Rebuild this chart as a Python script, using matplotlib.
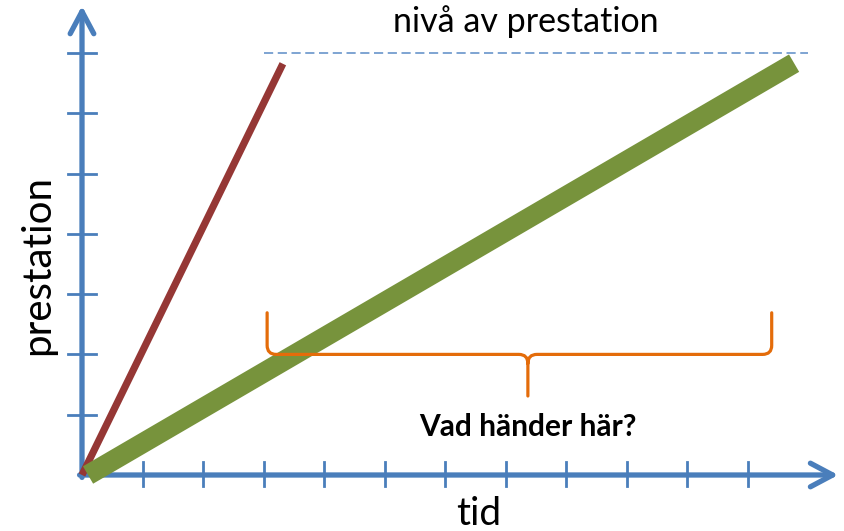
import numpy as np
import matplotlib; matplotlib.use("Agg")
import matplotlib.pyplot as plt
from matplotlib.path import Path
from matplotlib.patches import PathPatch

plt.rcParams["font.family"] = ["Lato", "DejaVu Sans"]

# data (units = tick spacing)
x_ticks = np.arange(1, 12)
y_ticks = np.arange(1, 8)
red_x, red_y = [0.0, 3.32], [0.0, 6.82]
green_x, green_y = [0.1, 11.77], [0.0, 6.83]
level = 7.0
level_x = [3.0, 12.0]
brace_left, brace_mid, brace_right = 3.06, 7.37, 11.4
brace_top, brace_line, brace_tip = 2.69, 2.0, 1.31

AX = "#4A7EBB"
fig = plt.figure(figsize=(8.44, 5.31), dpi=100)
ax = fig.add_axes([0, 0, 1, 1])
ax.set_xlim(-82 / 60.5, 762 / 60.5)
ax.set_ylim(-56 / 60.3, 475 / 60.3)
ax.axis("off")

# axes with arrows
arrow = dict(arrowstyle="->,head_length=1.6,head_width=0.85", lw=3.8, color=AX,
             capstyle="round", joinstyle="round", shrinkA=0, shrinkB=0)
ax.annotate("", xy=(12.5, 0), xytext=(-0.04, 0), arrowprops=arrow, zorder=2)
ax.annotate("", xy=(0, 7.78), xytext=(0, -0.04), arrowprops=arrow, zorder=2)
for t in x_ticks:
    ax.plot([t, t], [-0.19, 0.22], color=AX, lw=2.0, zorder=2)
for t in y_ticks:
    ax.plot([-0.23, 0.23], [t, t], color=AX, lw=2.0, zorder=2)

ax.plot(level_x, [level, level], color="#5B8BC6", lw=1.1, ls=(0, (6, 3)), zorder=1)
ax.plot(red_x, red_y, color="#953735", lw=5.2, solid_capstyle="butt", zorder=3)
ax.plot(green_x, green_y, color="#77933C", lw=14.5, solid_capstyle="butt", zorder=4)

# brace
r = 0.15
verts = [(brace_left, brace_top), (brace_left, brace_line + r),
         (brace_left, brace_line), (brace_left + r, brace_line),
         (brace_mid - r, brace_line),
         (brace_mid, brace_line), (brace_mid, brace_line - r),
         (brace_mid, brace_tip),
         (brace_mid, brace_line - r),
         (brace_mid, brace_line), (brace_mid + r, brace_line),
         (brace_right - r, brace_line),
         (brace_right, brace_line), (brace_right, brace_line + r),
         (brace_right, brace_top)]
codes = [Path.MOVETO, Path.LINETO, Path.CURVE3, Path.CURVE3, Path.LINETO,
         Path.CURVE3, Path.CURVE3, Path.LINETO, Path.MOVETO,
         Path.CURVE3, Path.CURVE3, Path.LINETO, Path.CURVE3, Path.CURVE3, Path.LINETO]
ax.add_patch(PathPatch(Path(verts, codes), fill=False, ec="#E46C0A", lw=2.3,
                       capstyle="round", joinstyle="round", zorder=5))

ax.text(brace_mid, 0.80, "Vad händer här?", ha="center", va="center",
        fontsize=21.5, fontweight="bold", color="black")
ax.text(7.33, 7.52, "nivå av prestation", ha="center", va="center", fontsize=24.5)
ax.text(-0.73, 3.48, "prestation", ha="center", va="center", fontsize=29, rotation=90)
ax.text(6.56, -0.64, "tid", ha="center", va="center", fontsize=28)

fig.savefig("out.png", dpi=100)
